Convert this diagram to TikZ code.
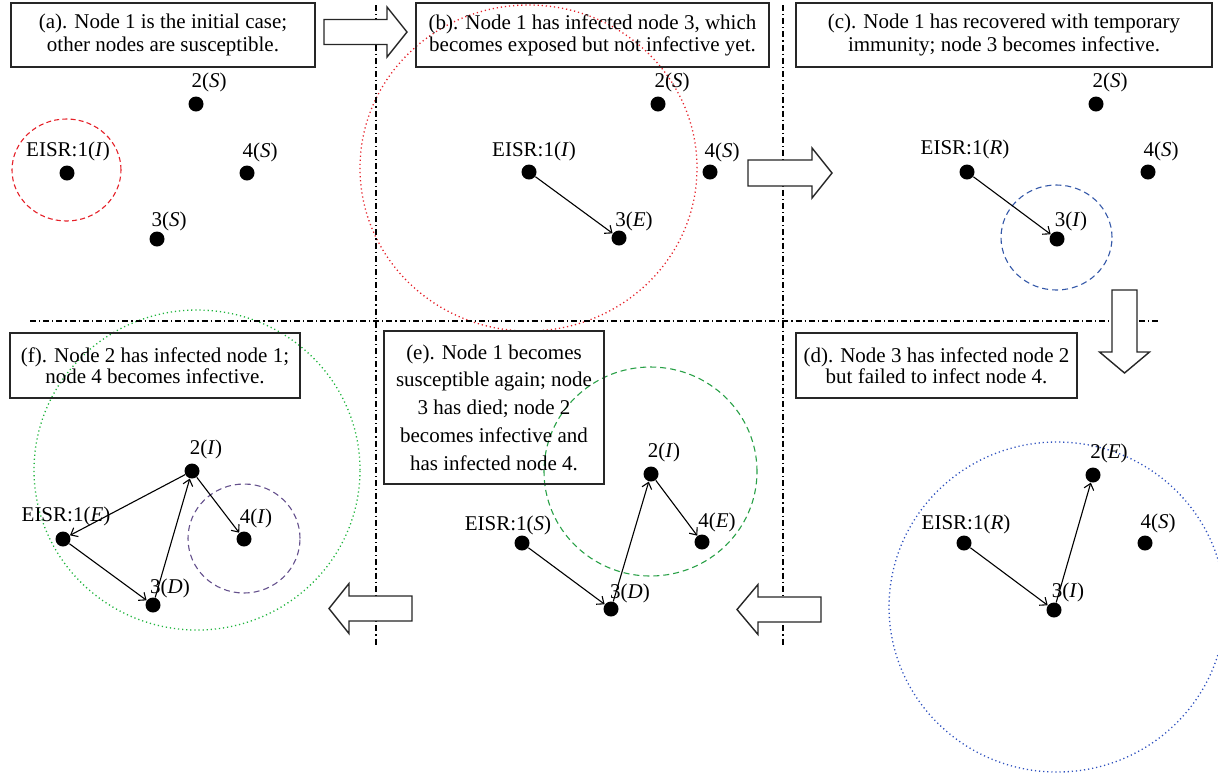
\documentclass[tikz,border=0pt]{standalone}
\usepackage{fontspec}
\setmainfont{Liberation Serif}
\usetikzlibrary{arrows.meta}

% colours of the infection ranges
\definecolor{rangered}{RGB}{229,32,40}
\definecolor{rangeblue}{RGB}{52,88,168}
\definecolor{rangeblueD}{RGB}{45,80,190}
\definecolor{rangegreen}{RGB}{40,160,70}
\definecolor{rangegreenD}{RGB}{30,180,60}
\definecolor{rangepurple}{RGB}{100,80,140}

\begin{document}
\begin{tikzpicture}[x=0.5pt,y=-0.5pt,
  nodedot/.style={circle,fill=black,inner sep=0pt,minimum size=7.5pt},
  nodelabel/.style={inner sep=0pt,font=\fontsize{10.5}{12}\selectfont},
  capbox/.style={draw=black!85,line width=0.7pt,align=center,inner sep=0pt,
    font=\fontsize{10.5}{11.5}\selectfont},
  infects/.style={line width=0.55pt,-{Straight Barb[length=3pt,width=5pt]}},
  separator/.style={line width=0.6pt,dash pattern=on 3pt off 1.5pt on 0.6pt off 1.5pt},
  bigarrow/.style={draw=black!85,line width=0.7pt,fill=white,line join=miter},
  dashedrange/.style={line width=0.55pt,dash pattern=on 3pt off 2pt},
  dottedrange/.style={line width=0.65pt,dash pattern=on 0.6pt off 1.45pt}]
\useasboundingbox (0,0) rectangle (1218,773);

% ---------------- infection ranges ----------------
\draw[dashedrange,rangered,dash pattern=on 2.5pt off 1.6pt] (66.5,170) ellipse [x radius=27.25pt,y radius=25.5pt];
\draw[dottedrange,rangered] (528.5,168) ellipse [x radius=84.25pt,y radius=81.5pt];
\draw[dashedrange,rangeblue] (1056.5,237.5) ellipse [x radius=27.75pt,y radius=26.25pt];
\draw[dottedrange,rangeblueD] (1057,607) ellipse [x radius=84pt,y radius=82.5pt];
\draw[dashedrange,rangegreen] (650.5,471.5) ellipse [x radius=53.25pt,y radius=52.25pt];
\draw[dottedrange,rangegreenD] (197,470) ellipse [x radius=81.5pt,y radius=80pt];
\draw[dashedrange,rangepurple] (244,538.5) ellipse [x radius=28pt,y radius=27.25pt];

% ---------------- panel separators ----------------
\draw[separator] (30,321) -- (1160,321);
\draw[separator] (376,5) -- (376,647);
\draw[separator] (783,5) -- (783,645);

% ---------------- step arrows ----------------
\draw[bigarrow] (324,19.5) -- (387,19.5) -- (387,7) -- (407,32) -- (387,57) -- (387,44.5) -- (324,44.5) -- cycle;
\draw[bigarrow] (748,160) -- (812,160) -- (812,148) -- (832,173) -- (812,198) -- (812,186) -- (748,186) -- cycle;
\draw[bigarrow] (1112,290) -- (1137,290) -- (1137,352) -- (1149.5,352) -- (1124.5,373) -- (1099.5,352) -- (1112,352) -- cycle;
\draw[bigarrow] (821,597) -- (758,597) -- (758,584.5) -- (737,609.5) -- (758,634.5) -- (758,622) -- (821,622) -- cycle;
\draw[bigarrow] (412,596) -- (349,596) -- (349,583.5) -- (329,608.5) -- (349,633.5) -- (349,621) -- (412,621) -- cycle;

% ---------------- captions ----------------
\node[capbox,minimum width=152pt,minimum height=32pt] (capa) at (163,35)
  {(a). Node 1 is the initial case;\\ other nodes are susceptible.};
\node[capbox,minimum width=176.5pt,minimum height=32pt,font=\fontsize{10.5}{11}\selectfont] (capb) at (592.5,35)
  {(b). Node 1 has infected node 3, which\\ becomes exposed but not infective yet.};
\node[capbox,minimum width=208pt,minimum height=32pt] (capc) at (1004,35)
  {(c). Node 1 has recovered with temporary\\ immunity; node 3 becomes infective.};
\node[capbox,minimum width=140.5pt,minimum height=32.5pt,font=\fontsize{10.5}{10.5}\selectfont] (capd) at (936.5,365.5)
  {(d). Node 3 has infected node 2\\ but failed to infect node 4.};
\node[capbox,minimum width=110pt,minimum height=76.5pt,font=\fontsize{10.5}{13.85}\selectfont] (cape) at (494,407.5)
  {(e). Node 1 becomes\\ susceptible again; node\\ 3 has died; node 2\\ becomes infective and\\ has infected node 4.};
\node[capbox,minimum width=145pt,minimum height=32.5pt,font=\fontsize{10.5}{10.5}\selectfont] (capf) at (155,365.5)
  {(f). Node 2 has infected node 1;\\ node 4 becomes infective.};

% ---------------- panel (a) ----------------
\node[nodedot] (a1) at (67,173) {};
\node[nodedot] (a2) at (196,104) {};
\node[nodedot] (a3) at (157,239) {};
\node[nodedot] (a4) at (247,173) {};
\node[nodelabel] (a1l) at (68,151) {EISR:1(\textit{I})};
\node[nodelabel] (a2l) at (209,82) {2(\textit{S})};
\node[nodelabel] (a3l) at (169,221) {3(\textit{S})};
\node[nodelabel] (a4l) at (260,152) {4(\textit{S})};

% ---------------- panel (b) ----------------
\node[nodedot] (b1) at (529,172) {};
\node[nodedot] (b2) at (658,104) {};
\node[nodedot] (b3) at (619,238) {};
\node[nodedot] (b4) at (710,172) {};
\node[nodelabel] (b1l) at (534,151) {EISR:1(\textit{I})};
\node[nodelabel] (b2l) at (672,82) {2(\textit{S})};
\node[nodelabel] (b3l) at (634,221) {3(\textit{E})};
\node[nodelabel] (b4l) at (722,152) {4(\textit{S})};
\draw[infects] (b1) -- (b3);

% ---------------- panel (c) ----------------
\node[nodedot] (c1) at (967,172) {};
\node[nodedot] (c2) at (1096,104) {};
\node[nodedot] (c3) at (1057,239) {};
\node[nodedot] (c4) at (1148,172) {};
\node[nodelabel] (c1l) at (965,149) {EISR:1(\textit{R})};
\node[nodelabel] (c2l) at (1110,82) {2(\textit{S})};
\node[nodelabel] (c3l) at (1071,221) {3(\textit{I})};
\node[nodelabel] (c4l) at (1161,151) {4(\textit{S})};
\draw[infects] (c1) -- (c3);

% ---------------- panel (d) ----------------
\node[nodedot] (d1) at (964,543) {};
\node[nodedot] (d2) at (1093,475) {};
\node[nodedot] (d3) at (1054,610) {};
\node[nodedot] (d4) at (1145,543) {};
\node[nodelabel] (d1l) at (966,524) {EISR:1(\textit{R})};
\node[nodelabel] (d2l) at (1109,453) {2(\textit{E})};
\node[nodelabel] (d3l) at (1068,592) {3(\textit{I})};
\node[nodelabel] (d4l) at (1158,523) {4(\textit{S})};
\draw[infects] (d1) -- (d3);
\draw[infects] (d3) -- (d2);

% ---------------- panel (e) ----------------
\node[nodedot] (e1) at (522,543) {};
\node[nodedot] (e2) at (651,474) {};
\node[nodedot] (e3) at (611,609) {};
\node[nodedot] (e4) at (702,542) {};
\node[nodelabel] (e1l) at (508,525) {EISR:1(\textit{S})};
\node[nodelabel] (e2l) at (664,452) {2(\textit{I})};
\node[nodelabel] (e3l) at (630,593) {3(\textit{D})};
\node[nodelabel] (e4l) at (717,522) {4(\textit{E})};
\draw[infects] (e1) -- (e3);
\draw[infects] (e3) -- (e2);
\draw[infects] (e2) -- (e4);

% ---------------- panel (f) ----------------
\node[nodedot] (f1) at (63,539) {};
\node[nodedot] (f2) at (192,471) {};
\node[nodedot] (f3) at (153,605) {};
\node[nodedot] (f4) at (244,539) {};
\node[nodelabel] (f1l) at (66,516) {EISR:1(\textit{E})};
\node[nodelabel] (f2l) at (206,449) {2(\textit{I})};
\node[nodelabel] (f3l) at (170,588) {3(\textit{D})};
\node[nodelabel] (f4l) at (256,518) {4(\textit{I})};
\draw[infects] (f2) -- (f1);
\draw[infects] (f1) -- (f3);
\draw[infects] (f3) -- (f2);
\draw[infects] (f2) -- (f4);
\end{tikzpicture}
\end{document}
